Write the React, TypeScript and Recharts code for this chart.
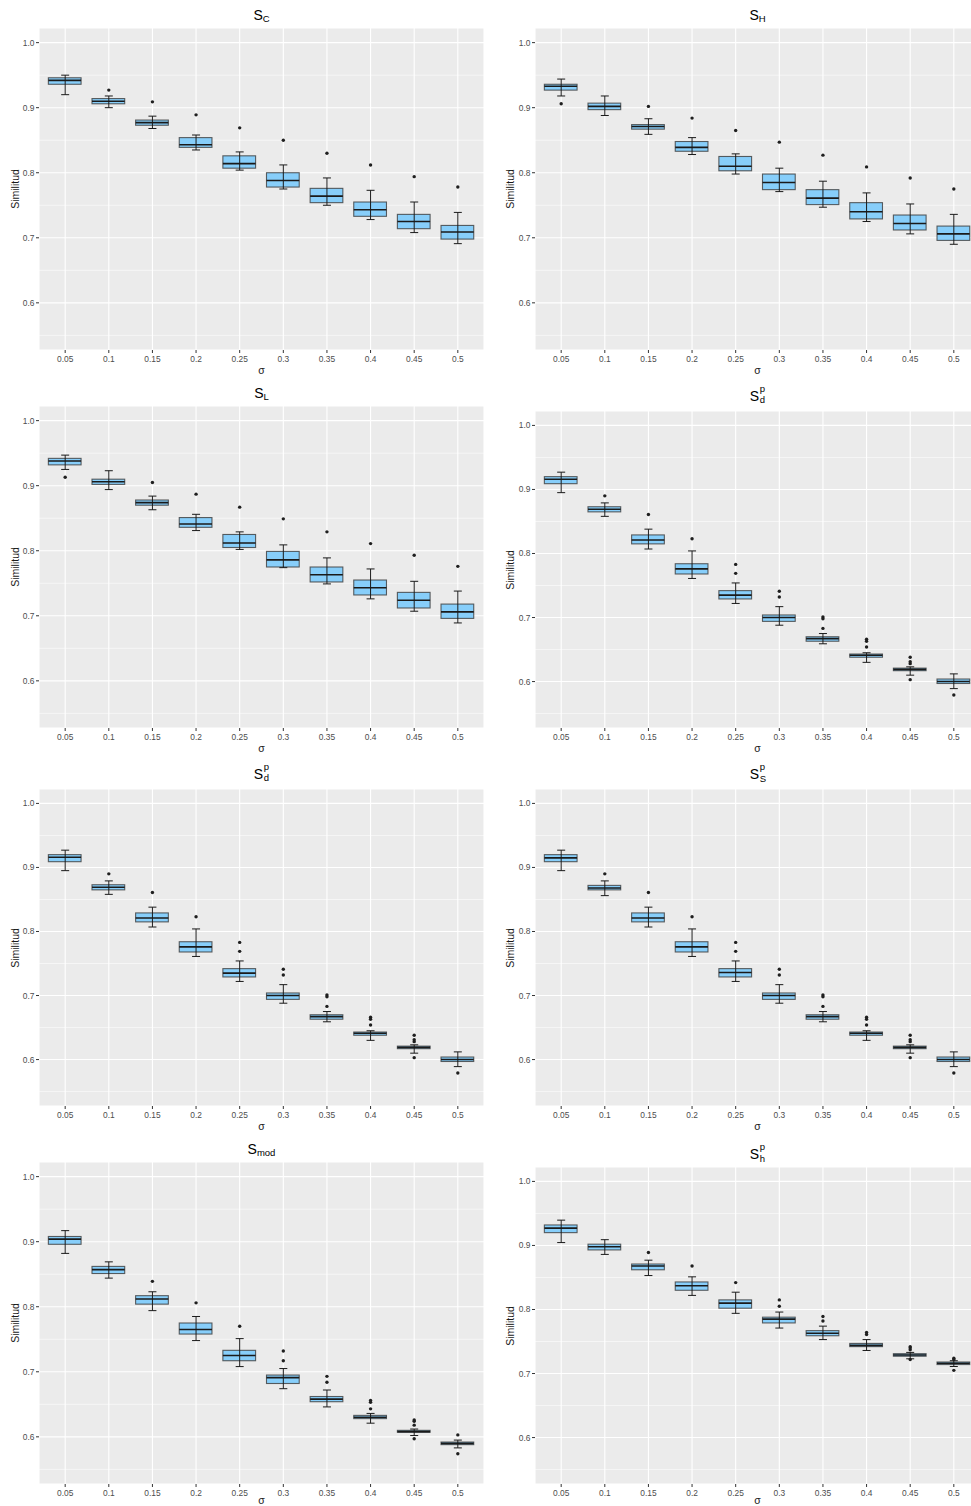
import React from 'react';
import { ComposedChart, Bar, Scatter, ErrorBar, XAxis, YAxis, CartesianGrid } from 'recharts';

const FONT = '"Liberation Sans", Arial, Helvetica, sans-serif';

// Shared axis definitions
const sigmaLabels = ['0.05', '0.1', '0.15', '0.2', '0.25', '0.3', '0.35', '0.4', '0.45', '0.5'];
const yTicks = [0.6, 0.7, 0.8, 0.9, 1.0];
const yMinorTicks = [0.55, 0.65, 0.75, 0.85, 0.95];
const yDomain: [number, number] = [0.5275, 1.0225];

// S_C
const scLow = [0.920, 0.900, 0.868, 0.835, 0.804, 0.775, 0.750, 0.728, 0.708, 0.691];
const scQ1 = [0.936, 0.906, 0.873, 0.839, 0.807, 0.778, 0.754, 0.733, 0.714, 0.698];
const scMed = [0.942, 0.910, 0.877, 0.843, 0.814, 0.788, 0.764, 0.743, 0.725, 0.709];
const scQ3 = [0.946, 0.914, 0.881, 0.854, 0.826, 0.800, 0.776, 0.755, 0.736, 0.719];
const scHigh = [0.950, 0.918, 0.887, 0.858, 0.832, 0.812, 0.792, 0.773, 0.755, 0.739];
const scOut = [[], [0.927], [0.909], [0.889], [0.869], [0.850], [0.830], [0.812], [0.794], [0.778]];

// S_H
const shLow = [0.918, 0.888, 0.859, 0.828, 0.798, 0.771, 0.747, 0.725, 0.706, 0.690];
const shQ1 = [0.927, 0.897, 0.867, 0.833, 0.803, 0.774, 0.751, 0.729, 0.712, 0.696];
const shMed = [0.933, 0.902, 0.871, 0.839, 0.810, 0.785, 0.761, 0.740, 0.722, 0.706];
const shQ3 = [0.936, 0.907, 0.874, 0.848, 0.825, 0.798, 0.774, 0.754, 0.735, 0.718];
const shHigh = [0.944, 0.918, 0.883, 0.854, 0.829, 0.807, 0.787, 0.769, 0.752, 0.736];
const shOut = [[0.906], [], [0.902], [0.884], [0.865], [0.847], [0.827], [0.809], [0.792], [0.775]];

// S_L
const slLow = [0.925, 0.894, 0.863, 0.831, 0.802, 0.774, 0.749, 0.726, 0.707, 0.689];
const slQ1 = [0.932, 0.902, 0.870, 0.836, 0.805, 0.775, 0.752, 0.732, 0.712, 0.696];
const slMed = [0.938, 0.906, 0.874, 0.841, 0.812, 0.786, 0.763, 0.743, 0.724, 0.706];
const slQ3 = [0.942, 0.910, 0.878, 0.851, 0.825, 0.799, 0.775, 0.755, 0.736, 0.718];
const slHigh = [0.947, 0.923, 0.884, 0.856, 0.829, 0.809, 0.789, 0.772, 0.753, 0.738];
const slOut = [[0.913], [], [0.905], [0.887], [0.867], [0.849], [0.829], [0.811], [0.793], [0.776]];

// S_d^p
const sdLow = [0.895, 0.858, 0.807, 0.761, 0.722, 0.688, 0.659, 0.630, 0.610, 0.589];
const sdQ1 = [0.909, 0.865, 0.815, 0.768, 0.729, 0.694, 0.663, 0.638, 0.617, 0.597];
const sdMed = [0.916, 0.869, 0.821, 0.776, 0.735, 0.700, 0.667, 0.641, 0.619, 0.600];
const sdQ3 = [0.920, 0.873, 0.829, 0.784, 0.742, 0.704, 0.670, 0.643, 0.621, 0.604];
const sdHigh = [0.927, 0.879, 0.838, 0.804, 0.754, 0.717, 0.675, 0.645, 0.623, 0.612];
const sdOut = [[], [0.890], [0.861], [0.823], [0.783, 0.769], [0.741, 0.732], [0.701, 0.698, 0.683], [0.666, 0.663, 0.654], [0.638, 0.631, 0.628, 0.603], [0.579]];

// S_S^p
const ssLow = [0.895, 0.856, 0.807, 0.761, 0.722, 0.688, 0.659, 0.630, 0.610, 0.589];
const ssQ1 = [0.909, 0.865, 0.815, 0.768, 0.729, 0.694, 0.663, 0.638, 0.617, 0.597];
const ssMed = [0.915, 0.868, 0.821, 0.776, 0.736, 0.700, 0.667, 0.641, 0.619, 0.600];
const ssQ3 = [0.920, 0.872, 0.829, 0.784, 0.742, 0.704, 0.670, 0.643, 0.621, 0.604];
const ssHigh = [0.927, 0.879, 0.838, 0.804, 0.754, 0.717, 0.675, 0.645, 0.623, 0.612];
const ssOut = [[], [0.890], [0.861], [0.823], [0.783, 0.769], [0.741, 0.732], [0.701, 0.698, 0.683], [0.666, 0.663, 0.654], [0.638, 0.631, 0.628, 0.603], [0.579]];

// S_mod
const smLow = [0.882, 0.844, 0.794, 0.748, 0.708, 0.674, 0.646, 0.621, 0.602, 0.583];
const smQ1 = [0.896, 0.851, 0.804, 0.758, 0.717, 0.682, 0.654, 0.628, 0.607, 0.588];
const smMed = [0.904, 0.857, 0.812, 0.765, 0.725, 0.691, 0.658, 0.630, 0.608, 0.590];
const smQ3 = [0.908, 0.862, 0.817, 0.775, 0.733, 0.695, 0.662, 0.633, 0.610, 0.592];
const smHigh = [0.917, 0.869, 0.823, 0.785, 0.751, 0.705, 0.672, 0.636, 0.612, 0.595];
const smOut = [[], [], [0.839], [0.806], [0.770], [0.732, 0.717], [0.693, 0.684], [0.656, 0.653, 0.643], [0.626, 0.624, 0.618, 0.597], [0.603, 0.574]];

// S_h^p
const sxLow = [0.9045, 0.886, 0.853, 0.822, 0.794, 0.771, 0.753, 0.736, 0.723, 0.711];
const sxQ1 = [0.920, 0.893, 0.862, 0.830, 0.802, 0.779, 0.759, 0.742, 0.727, 0.714];
const sxMed = [0.927, 0.898, 0.868, 0.837, 0.810, 0.785, 0.763, 0.744, 0.729, 0.716];
const sxQ3 = [0.932, 0.902, 0.871, 0.843, 0.815, 0.788, 0.767, 0.747, 0.731, 0.718];
const sxHigh = [0.9395, 0.909, 0.877, 0.851, 0.827, 0.796, 0.774, 0.753, 0.733, 0.720];
const sxOut = [[], [], [0.889], [0.868], [0.842], [0.815, 0.805], [0.789, 0.782], [0.764, 0.761], [0.742, 0.740, 0.737, 0.722], [0.724, 0.722, 0.705]];

type Stats = { low: number[]; q1: number[]; med: number[]; q3: number[]; high: number[]; out: number[][] };

const MAX_OUT = 4;
const outKeys = Array.from({ length: MAX_OUT }, (_, k) => `o${k}`);

function buildRows(s: Stats) {
  return sigmaLabels.map((sigma, i) => {
    const row: Record<string, unknown> = {
      sigma,
      box: [s.q1[i], s.q3[i]],
      med: s.med[i],
      whisker: [s.med[i] - s.low[i], s.high[i] - s.med[i]],
    };
    outKeys.forEach((k, j) => {
      row[k] = s.out[i][j] ?? null;
    });
    return row;
  });
}

const BOX_FILL = '#87CEFA';

function BoxShape(props: any) {
  const { x, y, width, height, payload } = props;
  if (![x, y, width, height].every((v) => Number.isFinite(v)) || !payload) return <g />;
  const [q1, q3] = payload.box as [number, number];
  const medY = y + (height * (q3 - payload.med)) / (q3 - q1);
  return (
    <g>
      <rect x={x} y={y} width={width} height={height} fill={BOX_FILL} stroke="#3a3a3a" strokeOpacity={0.8} strokeWidth={1.1} />
      <line x1={x} x2={x + width} y1={medY} y2={medY} stroke="#1a1a1a" strokeWidth={1.6} />
    </g>
  );
}

const EmptyShape = () => <g />;

const outlierShape = (key: string) => (props: any) => {
  const { cx, cy, payload } = props;
  if (!payload || payload[key] == null || !Number.isFinite(cx) || !Number.isFinite(cy)) return <g />;
  return <circle cx={cx} cy={cy} r={1.7} fill="#1f1f1f" />;
};

// Panel layout
const PAGE_W = 971;
const PAGE_H = 1506;

const columns = [
  { left: 0, width: 486, yAxisWidth: 39, rightMargin: 2, yLabelX: 15 },
  { left: 490, width: 491, yAxisWidth: 45, rightMargin: 1, yLabelX: 510 },
];

type TitleSpec = { sub?: string; sup?: string };

const panels: { title: TitleSpec; stats: Stats; col: number; plotTop: number; plotBottom: number; titleBase: number }[] = [
  { title: { sub: 'C' }, stats: { low: scLow, q1: scQ1, med: scMed, q3: scQ3, high: scHigh, out: scOut }, col: 0, plotTop: 28, plotBottom: 350, titleBase: 19.5 },
  { title: { sub: 'H' }, stats: { low: shLow, q1: shQ1, med: shMed, q3: shQ3, high: shHigh, out: shOut }, col: 1, plotTop: 28, plotBottom: 350, titleBase: 19.5 },
  { title: { sub: 'L' }, stats: { low: slLow, q1: slQ1, med: slMed, q3: slQ3, high: slHigh, out: slOut }, col: 0, plotTop: 406, plotBottom: 728, titleBase: 398 },
  { title: { sup: 'p', sub: 'd' }, stats: { low: sdLow, q1: sdQ1, med: sdMed, q3: sdQ3, high: sdHigh, out: sdOut }, col: 1, plotTop: 411, plotBottom: 728, titleBase: 400.7 },
  { title: { sup: 'p', sub: 'd' }, stats: { low: sdLow, q1: sdQ1, med: sdMed, q3: sdQ3, high: sdHigh, out: sdOut }, col: 0, plotTop: 789, plotBottom: 1106, titleBase: 778.5 },
  { title: { sup: 'p', sub: 'S' }, stats: { low: ssLow, q1: ssQ1, med: ssMed, q3: ssQ3, high: ssHigh, out: ssOut }, col: 1, plotTop: 789, plotBottom: 1106, titleBase: 779 },
  { title: { sub: 'mod' }, stats: { low: smLow, q1: smQ1, med: smMed, q3: smQ3, high: smHigh, out: smOut }, col: 0, plotTop: 1162, plotBottom: 1484, titleBase: 1154 },
  { title: { sup: 'p', sub: 'h' }, stats: { low: sxLow, q1: sxQ1, med: sxMed, q3: sxQ3, high: sxHigh, out: sxOut }, col: 1, plotTop: 1167, plotBottom: 1484, titleBase: 1159 },
];

const MT = 5;
const X_AXIS_H = 20;
const TITLE_FS = 14;
const SMALL_FS = 9.5;

function PanelTitle({ spec, cx, baseline }: { spec: TitleSpec; cx: number; baseline: number }) {
  const stacked = !!spec.sup;
  return (
    <div
      style={{
        position: 'absolute',
        left: cx - 80,
        width: 160,
        top: baseline - 11.85,
        height: 14,
        lineHeight: '14px',
        fontSize: TITLE_FS,
        textAlign: 'center',
        whiteSpace: 'nowrap',
        color: '#000',
      }}
    >
      S
      {stacked ? (
        <span style={{ position: 'relative', display: 'inline-block', width: 6, height: 1 }}>
          <span style={{ position: 'absolute', left: 0.5, top: -16, fontSize: SMALL_FS, lineHeight: '9.5px' }}>{spec.sup}</span>
          <span style={{ position: 'absolute', left: 0.5, top: -4.5, fontSize: SMALL_FS, lineHeight: '9.5px' }}>{spec.sub}</span>
        </span>
      ) : (
        <span style={{ position: 'relative', top: 2, fontSize: SMALL_FS, lineHeight: 0 }}>{spec.sub}</span>
      )}
    </div>
  );
}

function Panel({ p }: { p: (typeof panels)[number] }) {
  const c = columns[p.col];
  const plotW = c.width - c.yAxisWidth - c.rightMargin;
  const pad = plotW / 102;
  const barSize = (0.75 * plotW) / 10.2;
  const plotH = p.plotBottom - p.plotTop;
  const chartTop = p.plotTop - MT;
  const chartH = plotH + MT + X_AXIS_H;
  const rows = buildRows(p.stats);
  const plotCx = c.left + c.yAxisWidth + plotW / 2;
  const plotCy = (p.plotTop + p.plotBottom) / 2;
  const tickStyle = { fontSize: 8.4, fill: '#4D4D4D', fontFamily: FONT };
  // keep the x-axis title inside the page at the bottom row
  const xTitleTop = Math.min(p.plotBottom + 13.5, PAGE_H - 12);

  return (
    <>
      <PanelTitle spec={p.title} cx={plotCx} baseline={p.titleBase} />
      <div style={{ position: 'absolute', left: c.left, top: chartTop, width: c.width, height: chartH }}>
        <ComposedChart
          width={c.width}
          height={chartH}
          data={rows}
          margin={{ top: MT, right: c.rightMargin, bottom: 0, left: 0 }}
          barGap={0}
        >
          <CartesianGrid fill="#EBEBEB" stroke="#FFFFFF" strokeWidth={0.55} horizontalValues={yMinorTicks} vertical={false} />
          <CartesianGrid stroke="#FFFFFF" strokeWidth={1.1} />
          <XAxis
            dataKey="sigma"
            type="category"
            interval={0}
            padding={{ left: pad, right: pad }}
            axisLine={false}
            tickLine={{ stroke: '#333333' }}
            tickSize={3}
            tickMargin={3}
            height={X_AXIS_H}
            tick={tickStyle}
          />
          <YAxis
            type="number"
            domain={yDomain}
            ticks={yTicks}
            allowDataOverflow
            interval={0}
            width={c.yAxisWidth}
            axisLine={false}
            tickLine={{ stroke: '#333333' }}
            tickSize={3}
            tickMargin={1.5}
            tickFormatter={(v: number) => v.toFixed(1)}
            tick={tickStyle}
          />
          <Bar dataKey="box" barSize={barSize} shape={BoxShape} isAnimationActive={false} />
          <Scatter dataKey="med" shape={EmptyShape} isAnimationActive={false}>
            <ErrorBar dataKey="whisker" direction="y" width={4} stroke="#1a1a1a" strokeWidth={1} isAnimationActive={false} />
          </Scatter>
          {outKeys.map((k) => (
            <Scatter key={k} dataKey={k} shape={outlierShape(k)} isAnimationActive={false} />
          ))}
        </ComposedChart>
      </div>
      <div
        style={{
          position: 'absolute',
          left: c.yLabelX - 50,
          top: plotCy - 6,
          width: 100,
          height: 12,
          lineHeight: '12px',
          fontSize: 10.5,
          textAlign: 'center',
          transform: 'rotate(-90deg)',
          transformOrigin: '50% 50%',
          color: '#1a1a1a',
        }}
      >
        Similitud
      </div>
      <div
        style={{
          position: 'absolute',
          left: plotCx - 20,
          top: xTitleTop,
          width: 40,
          height: 12,
          lineHeight: '12px',
          fontSize: 10.5,
          textAlign: 'center',
          color: '#1a1a1a',
        }}
      >
        σ
      </div>
    </>
  );
}

export default function App() {
  return (
    <div
      style={{
        position: 'absolute',
        left: 0,
        top: 0,
        width: PAGE_W,
        height: PAGE_H,
        overflow: 'hidden',
        background: '#FFFFFF',
        fontFamily: FONT,
      }}
    >
      {panels.map((p, i) => (
        <Panel key={i} p={p} />
      ))}
    </div>
  );
}
